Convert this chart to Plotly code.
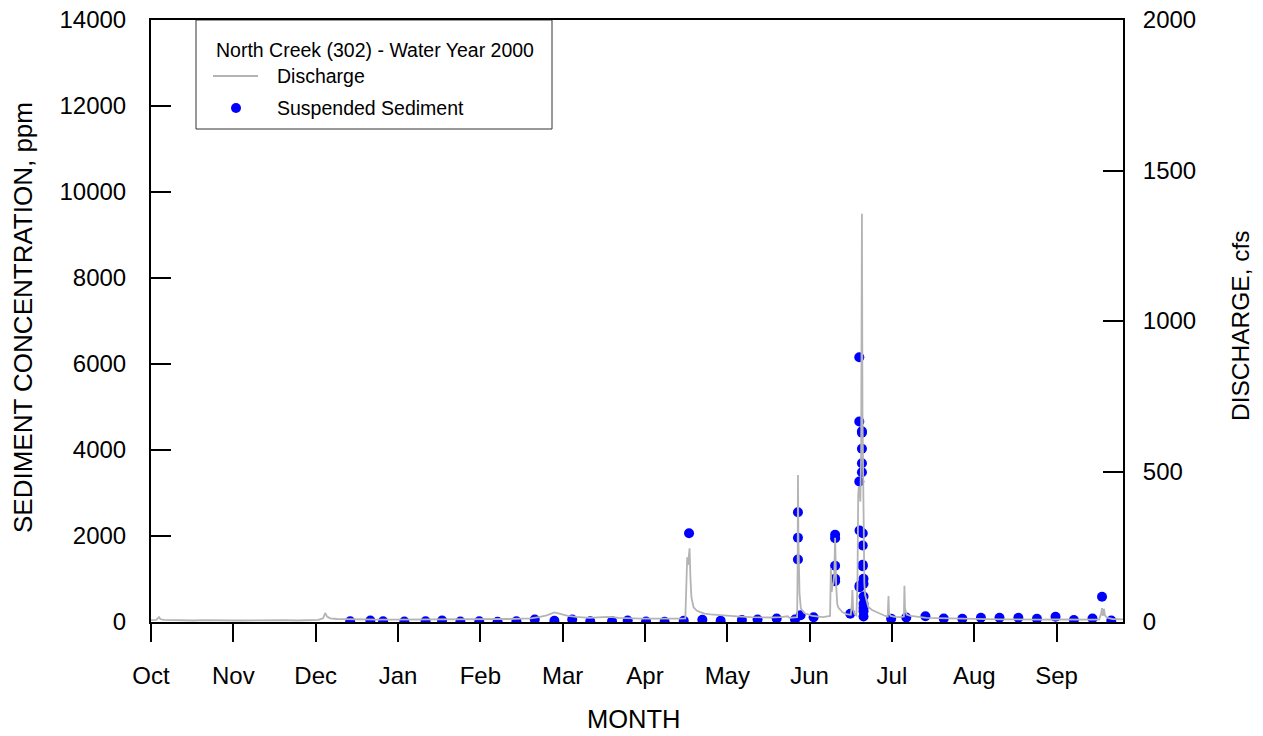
import plotly.graph_objects as go

# ---- data (day of water year 2000, day 0 = 1 Oct 1999) ----
month_labels = ["Oct", "Nov", "Dec", "Jan", "Feb", "Mar", "Apr", "May", "Jun", "Jul", "Aug", "Sep"]
month_ticks = [0, 31, 62, 93, 124, 155, 186, 217, 248, 279, 310, 341]

discharge_day = [
    0, 2, 3, 3.6, 5, 8, 12, 16, 20, 24, 28, 31,
    35, 40, 45, 50, 55, 60,
    63, 64.8, 65.6, 66.3, 67.5, 70, 74, 78, 82, 86, 90,
    95, 100, 105, 110, 115, 120, 125, 130, 135, 140,
    143, 146, 149, 151.9, 154, 157, 160, 165, 170, 173, 176, 180, 185, 190, 195, 199, 201.2,
    201.5, 201.9, 202.2, 202.5, 202.8, 203.1, 203.5, 204.3, 205.5, 206.8, 208.5, 210.6, 214.4,
    218, 221.9, 226, 229.4, 233, 237, 239.8, 240.4, 243,
    243.3, 243.5, 243.6, 243.8, 244.2, 244.7, 246, 249, 253, 255.7,
    256.0, 256.3, 256.6, 257.0, 257.3, 257.6, 258.0, 258.4, 258.8, 260.3, 261.8, 263.5,
    263.9, 264.1, 264.4, 265.0, 265.6,
    266.0, 266.3, 266.5, 266.8, 267.1, 267.4, 267.7, 267.9, 268.1, 268.3, 268.6, 268.9,
    269.5, 270.1, 271.5, 272.7, 274.5, 276.5, 277.4, 277.6, 277.7, 277.9, 278.5, 280, 282,
    283.5, 283.6, 283.7, 283.9, 284.5, 286, 289, 292, 296, 300, 305, 310, 315, 320, 325,
    330, 335, 340, 345, 350, 354, 357, 357.8, 358.1, 358.4, 358.8, 359.2, 360, 362, 366,
]
discharge_cfs = [
    6, 7, 16, 9, 7, 6, 6, 5, 6, 5, 5, 5,
    5, 6, 5, 6, 5, 6,
    7, 12, 30, 18, 12, 10, 9, 9, 8, 8, 8,
    8, 9, 8, 8, 9, 8, 9, 9, 10, 11,
    12, 16, 22, 32, 26, 20, 17, 14, 16, 17, 14, 12, 11, 11, 10, 11, 12,
    110, 215, 190, 230, 245, 150, 82, 49, 38, 33, 28, 25, 22,
    20, 18, 16, 15, 15, 16, 19, 14, 15,
    16, 200, 488, 260, 95, 45, 30, 20, 16, 20,
    179, 100, 120, 130, 160, 280, 120, 60, 48, 33, 26, 24,
    60, 106, 40, 25, 22,
    120, 420, 448, 440, 400, 560, 1356, 700, 440, 220, 130, 90,
    65, 50, 40, 35, 26, 20, 18, 60, 86, 30, 20, 17, 16,
    18, 70, 120, 45, 25, 20, 16, 14, 13, 12, 11, 10, 10, 9, 9,
    8, 8, 9, 8, 7, 7, 8, 30, 46, 20, 44, 22, 14, 10, 9,
]

sediment_day = [
    75.0, 82.6, 87.4, 95.4, 103.4, 109.6, 116.5, 123.6, 130.5, 137.6, 144.5, 151.9, 158.6,
    165.4, 173.6, 179.5, 186.4, 193.4, 200.6, 202.6, 207.6, 214.5, 222.5, 228.4, 235.6, 242.5,
    243.6, 243.6, 243.6, 244.6, 249.5,
    257.6, 257.6, 257.6, 257.6, 257.6, 263.3,
    266.7, 266.7, 266.7, 266.8, 266.8, 266.8,
    267.7, 267.7, 267.7, 267.7, 267.7,
    268.0, 268.0, 268.0, 268.0,
    268.3, 268.3, 268.3, 268.3, 268.3, 268.3, 268.3,
    278.7, 284.4, 291.6, 298.5, 305.5, 312.5, 319.5, 326.6, 333.6, 340.6, 347.5, 354.5,
    358.1, 361.6,
]
sediment_ppm = [
    19, 35, 19, 12, 19, 35, 12, 19, 5, 19, 58, 28, 58,
    19, 19, 35, 12, 5, 28, 2065, 51, 28, 44, 58, 81, 58,
    2553, 1958, 1453, 158, 112,
    2028, 1949, 1307, 1005, 949, 190,
    6158, 4663, 3267, 2128, 849, 809,
    4437, 4400, 4028, 3693, 3484,
    2065, 1779, 1330, 1298,
    1005, 888, 593, 423, 330, 251, 128,
    74, 105, 135, 81, 74, 98, 98, 98, 74, 121, 44, 81,
    588, 35,
]

left_ticks = [0, 2000, 4000, 6000, 8000, 10000, 12000, 14000]
left_labels = ["0", "2000", "4000", "6000", "8000", "10000", "12000", "14000"]
right_ticks = [0, 500, 1000, 1500, 2000]
right_labels = ["0", "500", "1000", "1500", "2000"]

FONT = "Arial, 'Liberation Sans', Helvetica, sans-serif"
BLUE = "#0000ff"
GRAY = "#b4b4b4"

fig = go.Figure()
fig.add_trace(go.Scatter(
    x=discharge_day, y=discharge_cfs, mode="lines", yaxis="y2", name="Discharge",
    line=dict(color=GRAY, width=1.8), showlegend=False, hoverinfo="skip",
))
fig.add_trace(go.Scatter(
    x=sediment_day, y=sediment_ppm, mode="markers", name="Suspended Sediment",
    marker=dict(color=BLUE, size=10, line=dict(width=0)), showlegend=False,
))

L, R, T, B = 151, 140, 20, 114
W, H = 1263, 736
pw, ph = W - L - R, H - T - B

def px(xp):
    return (xp - L) / pw

def py(yp):
    return (H - B - yp) / ph

fig.update_layout(
    width=W, height=H, autosize=False,
    margin=dict(l=L, r=R, t=T, b=B, pad=0, autoexpand=False),
    paper_bgcolor="white", plot_bgcolor="white",
    font=dict(family=FONT, size=24, color="black"),
    showlegend=False,
    xaxis=dict(
        range=[0, 366], tickmode="array", tickvals=month_ticks, ticktext=month_labels,
        ticks="outside", ticklen=18, tickwidth=2, tickcolor="black",
        showline=True, linecolor="black", linewidth=2, mirror=True,
        showgrid=False, zeroline=False, layer="below traces", automargin=False,
        ticklabelstandoff=13, tickfont=dict(size=24),
    ),
    yaxis=dict(
        range=[0, 14000], tickmode="array", tickvals=left_ticks, ticktext=left_labels,
        ticks="inside", ticklen=20, tickwidth=2, tickcolor="black",
        showline=True, linecolor="black", linewidth=2,
        showgrid=False, zeroline=False, layer="below traces", automargin=False,
        ticklabelstandoff=18, tickfont=dict(size=24),
    ),
    yaxis2=dict(
        range=[0, 2000], tickmode="array", tickvals=right_ticks, ticktext=right_labels,
        overlaying="y", side="right", anchor="x",
        ticks="inside", ticklen=20, tickwidth=2, tickcolor="black",
        showline=True, linecolor="black", linewidth=2,
        showgrid=False, zeroline=False, layer="below traces", automargin=False,
        ticklabelstandoff=13, tickfont=dict(size=24),
    ),
)

annotations = [
    dict(text="SEDIMENT CONCENTRATION, ppm", x=px(23), y=py(318), textangle=-90,
         xref="paper", yref="paper", showarrow=False, font=dict(size=26),
         xanchor="center", yanchor="middle"),
    dict(text="DISCHARGE, cfs", x=px(1240), y=py(326), textangle=-90,
         xref="paper", yref="paper", showarrow=False, font=dict(size=24.5),
         xanchor="center", yanchor="middle"),
    dict(text="MONTH", x=px(633), y=py(719),
         xref="paper", yref="paper", showarrow=False, font=dict(size=25.5),
         xanchor="center", yanchor="middle"),
    # legend texts
    dict(text="North Creek (302) - Water Year 2000", x=px(214), y=py(50),
         xref="paper", yref="paper", showarrow=False, font=dict(size=19.5),
         xanchor="left", yanchor="middle"),
    dict(text="Discharge", x=px(275), y=py(76),
         xref="paper", yref="paper", showarrow=False, font=dict(size=19.5),
         xanchor="left", yanchor="middle"),
    dict(text="Suspended Sediment", x=px(275), y=py(108),
         xref="paper", yref="paper", showarrow=False, font=dict(size=19.5),
         xanchor="left", yanchor="middle"),
]
fig.update_layout(annotations=annotations)

shapes = [
    dict(type="rect", xref="paper", yref="paper", x0=px(196), x1=px(552), y0=py(129), y1=py(20),
         line=dict(color="#333333", width=1), fillcolor="white", layer="below"),
    dict(type="line", xref="paper", yref="paper", x0=px(213), x1=px(258), y0=py(76), y1=py(76),
         line=dict(color=GRAY, width=1.8)),
    dict(type="circle", xref="paper", yref="paper", xsizemode="pixel", ysizemode="pixel",
         xanchor=px(236), yanchor=py(108), x0=-5, x1=5, y0=-5, y1=5,
         fillcolor=BLUE, line=dict(width=0)),
]
fig.update_layout(shapes=shapes)

fig.write_html("out.html")
